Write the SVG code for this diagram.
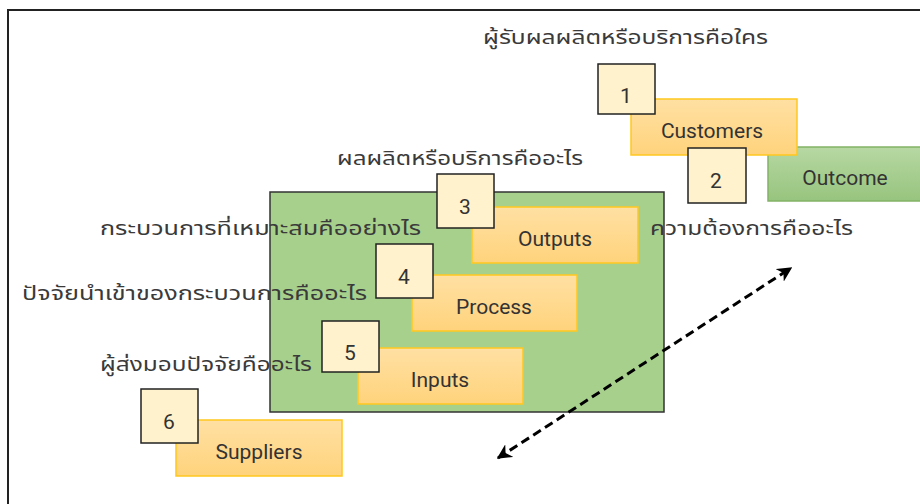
<svg xmlns="http://www.w3.org/2000/svg" width="920" height="504" viewBox="0 0 920 504">
<defs>
<linearGradient id="og" x1="0" y1="0" x2="0" y2="1"><stop offset="0" stop-color="#ffe0a3"/><stop offset="1" stop-color="#ffd37c"/></linearGradient>
<linearGradient id="gg" x1="0" y1="0" x2="0" y2="1"><stop offset="0" stop-color="#b7d8a3"/><stop offset="1" stop-color="#97c47e"/></linearGradient>
<marker id="ah" viewBox="0 0 10 10" refX="9" refY="5" markerWidth="5" markerHeight="5" orient="auto-start-reverse" markerUnits="strokeWidth"><path d="M0,0 L10,5 L0,10 L3,5 Z" fill="#000"/></marker>
<style>
.org{fill:url(#og);stroke:#ffc71f;stroke-width:1.5}
.num{fill:#fff2cc;stroke:#222;stroke-width:1.5}
.lbl{font-family:Roboto,"Liberation Sans",sans-serif;font-size:21px;fill:#333;text-anchor:middle}
.th{font-family:"Noto Sans Thai","Noto Sans","DejaVu Sans",sans-serif;font-size:19px;fill:#3a3a3a}
</style>
</defs>
<rect x="8" y="10" width="930" height="520" fill="#fff" stroke="#222" stroke-width="2"/>
<g id="process-box"><rect x="270" y="192" width="394" height="220" fill="#a8d08d" stroke="#333" stroke-width="1.5"/></g>
<g id="outcome"><rect x="768" y="147" width="160" height="54" fill="url(#gg)" stroke="#82b366" stroke-width="1.5"/><text class="lbl" x="845" y="185">Outcome</text></g>
<g id="customers"><rect class="org" x="631" y="99" width="166" height="56"/><text class="lbl" x="712" y="138">Customers</text></g>
<g id="outputs"><rect class="org" x="472" y="207" width="166" height="56"/><text class="lbl" x="555" y="246">Outputs</text></g>
<g id="process"><rect class="org" x="412" y="275" width="165" height="56"/><text class="lbl" x="494" y="314">Process</text></g>
<g id="inputs"><rect class="org" x="358" y="348" width="165" height="56"/><text class="lbl" x="440" y="387">Inputs</text></g>
<g id="suppliers"><rect class="org" x="176" y="420" width="166" height="56"/><text class="lbl" x="259" y="459">Suppliers</text></g>
<g id="n1"><rect class="num" x="598" y="64" width="57" height="50"/><text class="lbl" x="626" y="103">1</text></g>
<g id="n2"><rect class="num" x="688" y="148" width="58" height="55"/><text class="lbl" x="716" y="188">2</text></g>
<g id="n3"><rect class="num" x="437" y="174" width="57" height="54"/><text class="lbl" x="465" y="214">3</text></g>
<g id="n4"><rect class="num" x="376" y="244" width="57" height="54"/><text class="lbl" x="404" y="284">4</text></g>
<g id="n5"><rect class="num" x="322" y="321" width="57" height="51"/><text class="lbl" x="350" y="360">5</text></g>
<g id="n6"><rect class="num" x="141" y="389" width="57" height="54"/><text class="lbl" x="169" y="429">6</text></g>
<g id="texts">
<text class="th" x="483" y="44" textLength="285" lengthAdjust="spacingAndGlyphs">ผู้รับผลผลิตหรือบริการคือใคร</text>
<text class="th" x="337" y="165" textLength="246" lengthAdjust="spacingAndGlyphs">ผลผลิตหรือบริการคืออะไร</text>
<text class="th" x="100" y="235" textLength="321" lengthAdjust="spacingAndGlyphs">กระบวนการที่เหมาะสมคืออย่างไร</text>
<text class="th" x="22" y="300" textLength="345" lengthAdjust="spacingAndGlyphs">ปัจจัยนำเข้าของกระบวนการคืออะไร</text>
<text class="th" x="100" y="371" textLength="212" lengthAdjust="spacingAndGlyphs">ผู้ส่งมอบปัจจัยคืออะไร</text>
<text class="th" x="650" y="235" textLength="203" lengthAdjust="spacingAndGlyphs">ความต้องการคืออะไร</text>
</g>
<g id="connectors"><line x1="498" y1="458" x2="791" y2="268" stroke="#000" stroke-width="3" stroke-dasharray="9,5" marker-start="url(#ah)" marker-end="url(#ah)"/></g>
</svg>
